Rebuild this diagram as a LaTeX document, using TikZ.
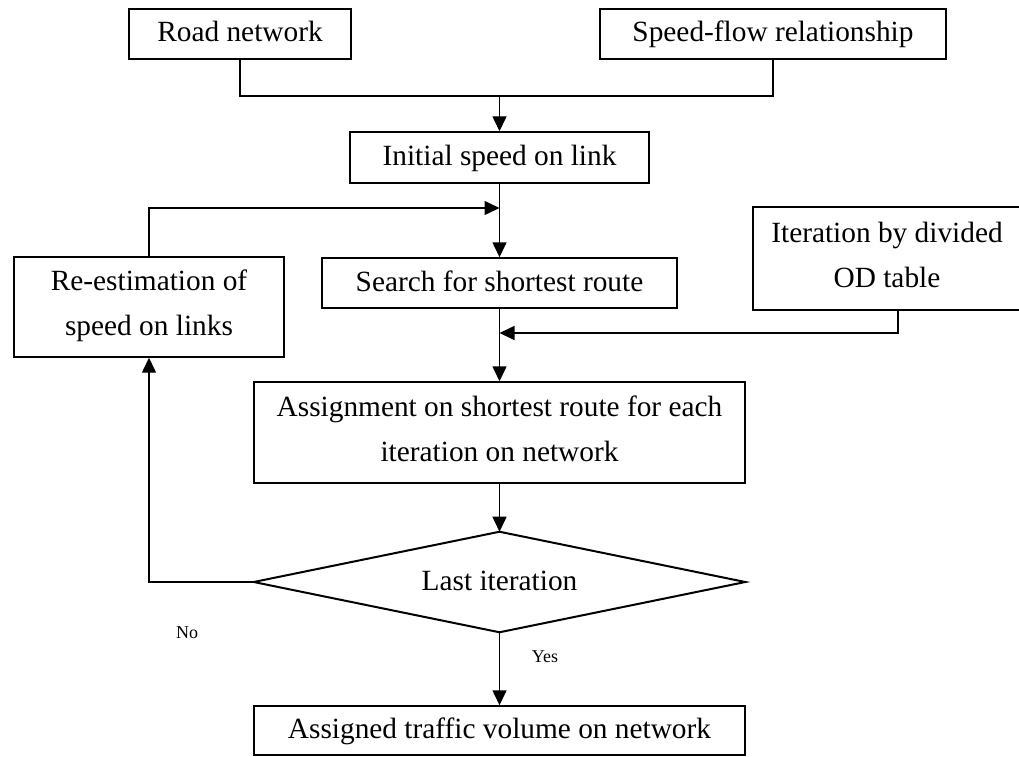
\documentclass[tikz,border=0pt]{standalone}
\usepackage{fontspec}
\setmainfont{Liberation Serif}
\usetikzlibrary{arrows.meta}

\begin{document}
\begin{tikzpicture}[x=0.75pt,y=-0.75pt,
  box/.style={draw, line width=1.1pt, inner sep=0pt, align=center,
    font=\fontsize{22}{34}\selectfont,
    execute at begin node={\rule[-6pt]{0pt}{24pt}}},
  slot/.style={inner sep=0pt, align=center,
    font=\fontsize{22}{34}\selectfont,
    execute at begin node={\rule[-6pt]{0pt}{24pt}}},
  flow/.style={line width=1.1pt},
  arr/.style={flow, -{Triangle[length=11.25pt,width=10.5pt]}},
  lbl/.style={font=\fontsize{13.5}{16}\selectfont, inner sep=0pt}]
\useasboundingbox (0,0) rectangle (1019,756);

% inputs
\node[box, minimum width=166.5pt, minimum height=37.5pt] (road) at (240,34) {Road network};
\node[box, minimum width=259.5pt, minimum height=37.5pt] (sf) at (773,34) {Speed-flow relationship};

% main chain
\node[box, minimum width=224.25pt, minimum height=38.25pt] (init) at (499.5,157.5) {Initial speed on link};
\node[box, minimum width=266.25pt, minimum height=37.5pt] (search) at (499.5,283) {Search for shortest route};
\node[box, minimum width=368.25pt, minimum height=75.75pt] (assign) at (499.5,432.5) {Assignment on shortest route for each\\iteration on network};
\node[slot, minimum width=368.25pt, minimum height=75pt] (last) at (499.5,582) {Last iteration};
\draw[line width=1.5pt, line join=miter] (last.north) -- (last.east) -- (last.south) -- (last.west) -- cycle;
\node[box, minimum width=368.25pt, minimum height=36.75pt] (done) at (499.5,730.5) {Assigned traffic volume on network};

% side boxes
\node[box, minimum width=202.5pt, minimum height=75pt] (reest) at (149,307) {Re-estimation of\\speed on links};
\node[box, minimum width=201pt, minimum height=77.25pt] (od) at (887,258.5) {Iteration by divided\\OD table};

% junction points on the main axis
\coordinate (jin) at (499.5,96);
\coordinate (jfb) at (499.5,208);
\coordinate (jod) at (499.5,333);
\coordinate (odout) at ([xshift=8.25pt]od.south);

% connectors
\draw[flow] (road.south) |- (jin) -| (sf.south);
\draw[arr] (jin) -- (init.north);
\draw[arr] (init.south) -- (search.north);
\draw[arr] (reest.north) |- (jfb);
\draw[arr] (odout) |- (jod);
\draw[arr] (search.south) -- (assign.north);
\draw[arr] (assign.south) -- (last.north);
\draw[arr] (last.west) -| (reest.south);
\draw[arr] (last.south) -- (done.north);

% branch labels
\node[lbl] (no) at (187,633) {No};
\node[lbl] (yes) at (545,657) {Yes};
\end{tikzpicture}
\end{document}
